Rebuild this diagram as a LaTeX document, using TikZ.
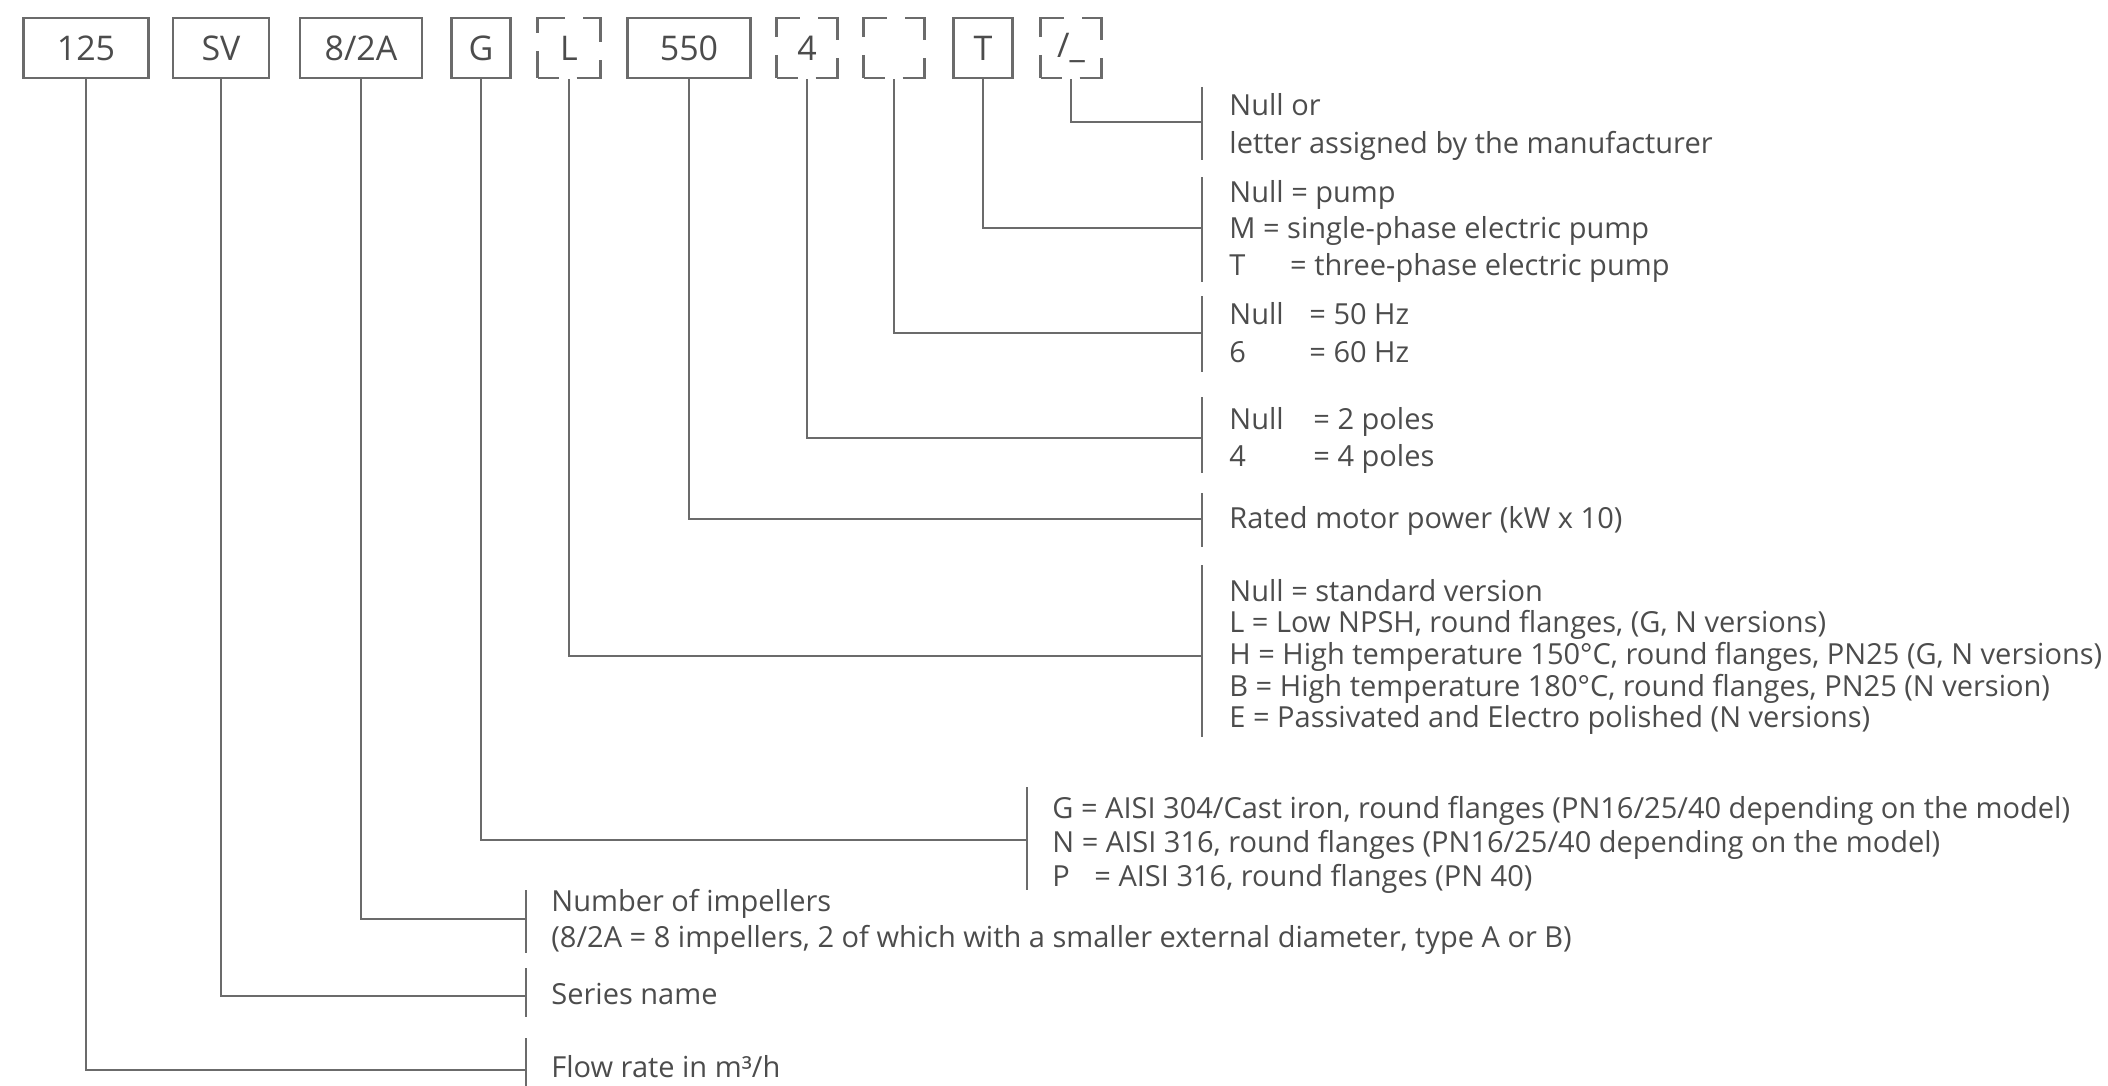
\documentclass[tikz,border=0pt]{standalone}
\usepackage{fontspec}
\setmainfont{Open Sans}
\definecolor{txtc}{gray}{0.30}
\definecolor{linec}{gray}{0.42}
\begin{document}
\begin{tikzpicture}[x=0.5pt,y=-0.5pt,
  box/.style={draw=linec, line width=1.3pt, minimum width=#1*0.5pt, minimum height=30pt, inner sep=0pt, text=txtc, font=\fontsize{17}{20}\selectfont},
  dbox/.style={box=#1, dash pattern=on 21pt off 9pt, dash phase=10.5pt},
  conn/.style={draw=linec, line width=1.1pt},
  brk/.style={draw=linec, line width=1.1pt},
  txt/.style={anchor=base west, inner sep=0pt, text=txtc, font=\fontsize{14.5}{17}\selectfont}]
\useasboundingbox (0,0) rectangle (2108,1086);

% code boxes
\node[box=125] (b125) at (86,48) {125};
\node[box=96]  (bSV)  at (221,48) {SV};
\node[box=122] (bImp) at (361,48) {8/2A};
\node[box=59]  (bG)   at (481,48) {G};
\node[dbox=63] (bL)   at (569,48) {L};
\node[box=123] (b550) at (689,48) {550};
\node[dbox=61] (b4)   at (807,48) {4};
\node[dbox=61] (bE)   at (894,48) {};
\node[box=59]  (bT)   at (983,48) {T};
\node[dbox=61] (bS)   at (1071,48) {/\_};

% bracket coordinates
\coordinate (k1) at (1202,122);  \coordinate (t1) at (1202,87);  \coordinate (u1) at (1202,160);
\coordinate (k2) at (1202,228);  \coordinate (t2) at (1202,177); \coordinate (u2) at (1202,282);
\coordinate (k3) at (1202,333);  \coordinate (t3) at (1202,296); \coordinate (u3) at (1202,372);
\coordinate (k4) at (1202,438);  \coordinate (t4) at (1202,397); \coordinate (u4) at (1202,473);
\coordinate (k5) at (1202,519);  \coordinate (t5) at (1202,493); \coordinate (u5) at (1202,547);
\coordinate (k6) at (1202,656);  \coordinate (t6) at (1202,565); \coordinate (u6) at (1202,737);
\coordinate (k7) at (1027,840);  \coordinate (t7) at (1027,787); \coordinate (u7) at (1027,890);
\coordinate (k8) at (526,919);   \coordinate (t8) at (526,890);  \coordinate (u8) at (526,953);
\coordinate (k9) at (526,996);   \coordinate (t9) at (526,968);  \coordinate (u9) at (526,1017);
\coordinate (k10) at (526,1070); \coordinate (t10) at (526,1038); \coordinate (u10) at (526,1086);

% connectors
\draw[conn] (bS.south) |- (k1);
\draw[conn] (bT.south) |- (k2);
\draw[conn] (bE.south) |- (k3);
\draw[conn] (b4.south) |- (k4);
\draw[conn] (b550.south) |- (k5);
\draw[conn] (bL.south) |- (k6);
\draw[conn] (bG.south) |- (k7);
\draw[conn] (bImp.south) |- (k8);
\draw[conn] (bSV.south) |- (k9);
\draw[conn] (b125.south) |- (k10);

% brackets
\draw[brk] (t1) -- (u1);
\draw[brk] (t2) -- (u2);
\draw[brk] (t3) -- (u3);
\draw[brk] (t4) -- (u4);
\draw[brk] (t5) -- (u5);
\draw[brk] (t6) -- (u6);
\draw[brk] (t7) -- (u7);
\draw[brk] (t8) -- (u8);
\draw[brk] (t9) -- (u9);
\draw[brk] (t10) -- (u10);

% texts
\node[txt] (l1a) at (1229,116) {Null or};
\node[txt] (l1b) at (1229,154) {letter assigned by the manufacturer};

\node[txt] (l2a) at (1229,202) {Null = pump};
\node[txt] (l2b) at (1229,238) {M = single-phase electric pump};
\node[txt] (l2c) at (1229,275) {\makebox[30.4pt][l]{T}= three-phase electric pump};

\node[txt] (l3a) at (1229,324) {\makebox[40pt][l]{Null}= 50 Hz};
\node[txt] (l3b) at (1229,362) {\makebox[40pt][l]{6}= 60 Hz};

\node[txt] (l4a) at (1229,429) {\makebox[42pt][l]{Null}= 2 poles};
\node[txt] (l4b) at (1229,466) {\makebox[42pt][l]{4}= 4 poles};

\node[txt] (l5a) at (1229,528) {Rated motor power (kW x 10)};

\node[txt] (l6a) at (1229,601) {Null = standard version};
\node[txt] (l6b) at (1229,632) {L = Low NPSH, round flanges, (G, N versions)};
\node[txt] (l6c) at (1229,664) {H = High temperature 150°C, round flanges, PN25 (G, N versions)};
\node[txt] (l6d) at (1229,696) {B = High temperature 180°C, round flanges, PN25 (N version)};
\node[txt] (l6e) at (1229,727) {E = Passivated and Electro polished (N versions)};

\node[txt] (l7a) at (1052,818) {G = AISI 304/Cast iron, round flanges (PN16/25/40 depending on the model)};
\node[txt] (l7b) at (1052,852) {N = AISI 316, round flanges (PN16/25/40 depending on the model)};
\node[txt] (l7c) at (1052,886) {\makebox[21pt][l]{P}= AISI 316, round flanges (PN 40)};

\node[txt] (l8a) at (551,911) {Number of impellers};
\node[txt] (l8b) at (551,947) {(8/2A = 8 impellers, 2 of which with a smaller external diameter, type A or B)};

\node[txt] (l9a) at (551,1004) {Series name};

\node[txt] (l10a) at (551,1077) {Flow rate in m³/h};
\end{tikzpicture}
\end{document}
